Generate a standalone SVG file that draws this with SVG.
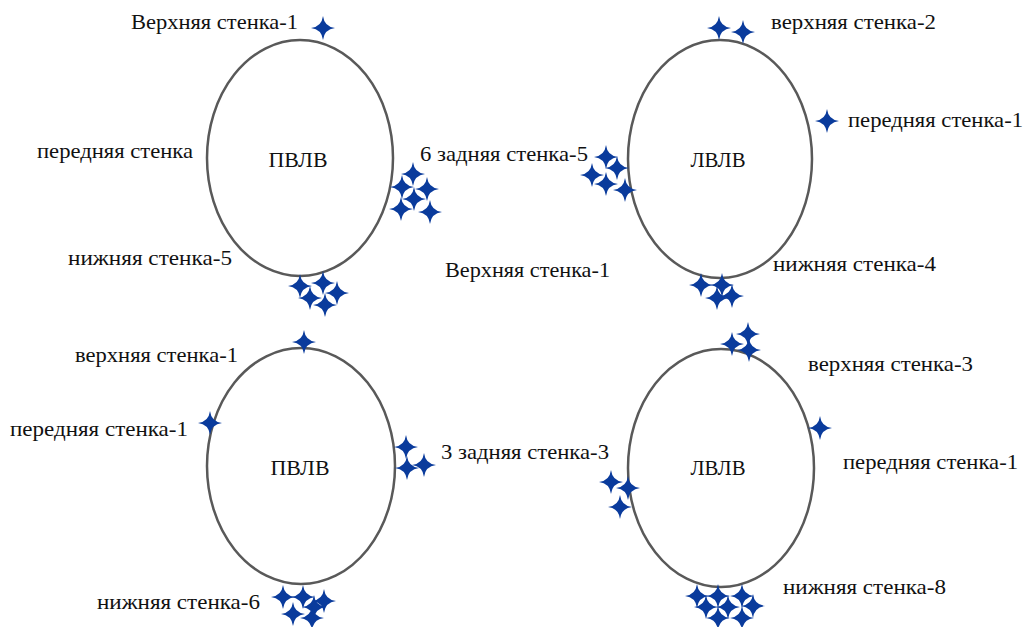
<svg xmlns="http://www.w3.org/2000/svg" xmlns:xlink="http://www.w3.org/1999/xlink" width="1026" height="627" viewBox="0 0 1026 627">
  <style>
    .vent { fill: none; stroke: #595959; stroke-width: 2.5; }
    .lbl { font-family: "Liberation Serif", "Times New Roman", serif; font-size: 21px; fill: #111; }
    .ctr { text-anchor: middle; font-size: 22px; }
    .mk { fill: #0a3b9c; }
  </style>
  <defs>
    <!-- four-point star marker -->
    <path id="star" class="mk" d="M0,-12 Q1.3,-1.3 12,0 Q1.3,1.3 0,12 Q-1.3,1.3 -12,0 Q-1.3,-1.3 0,-12 Z"/>
  </defs>

  <rect width="1026" height="627" fill="#fff"/>

  <!-- upper left: ПВЛВ -->
  <g id="node-pvlv-1">
    <ellipse class="vent" cx="300" cy="158" rx="93" ry="118"/>
    <text class="lbl ctr" x="298" y="167" textLength="59" lengthAdjust="spacingAndGlyphs">ПВЛВ</text>
    <text class="lbl" x="131" y="29" textLength="167" lengthAdjust="spacingAndGlyphs">Верхняя стенка-1</text>
    <text class="lbl" x="37" y="158" textLength="156" lengthAdjust="spacingAndGlyphs">передняя стенка</text>
    <text class="lbl" x="68" y="265" textLength="164" lengthAdjust="spacingAndGlyphs">нижняя стенка-5</text>
    <g>
      <use href="#star" x="323" y="28"/>
      <use href="#star" x="413" y="174"/>
      <use href="#star" x="402" y="187"/>
      <use href="#star" x="427" y="189"/>
      <use href="#star" x="414" y="199"/>
      <use href="#star" x="401" y="209"/>
      <use href="#star" x="430" y="212"/>
      <use href="#star" x="300" y="286"/>
      <use href="#star" x="323" y="283"/>
      <use href="#star" x="310" y="298"/>
      <use href="#star" x="337" y="293"/>
      <use href="#star" x="325" y="305"/>
    </g>
  </g>

  <!-- upper right: ЛВЛВ -->
  <g id="node-lvlv-1">
    <ellipse class="vent" cx="720" cy="159" rx="92" ry="119"/>
    <text class="lbl ctr" x="718" y="167" textLength="55" lengthAdjust="spacingAndGlyphs">ЛВЛВ</text>
    <text class="lbl" x="771" y="29" textLength="165" lengthAdjust="spacingAndGlyphs">верхняя стенка-2</text>
    <text class="lbl" x="848" y="127" textLength="175" lengthAdjust="spacingAndGlyphs">передняя стенка-1</text>
    <text class="lbl" x="420" y="161" textLength="168" lengthAdjust="spacingAndGlyphs">6 задняя стенка-5</text>
    <text class="lbl" x="773" y="271" textLength="163" lengthAdjust="spacingAndGlyphs">нижняя стенка-4</text>
    <text class="lbl" x="445" y="277" textLength="165" lengthAdjust="spacingAndGlyphs">Верхняя стенка-1</text>
    <g>
      <use href="#star" x="719" y="28"/>
      <use href="#star" x="743" y="32"/>
      <use href="#star" x="827" y="121"/>
      <use href="#star" x="606" y="157"/>
      <use href="#star" x="617" y="168"/>
      <use href="#star" x="592" y="175"/>
      <use href="#star" x="606" y="184"/>
      <use href="#star" x="625" y="190"/>
      <use href="#star" x="701" y="285"/>
      <use href="#star" x="722" y="285"/>
      <use href="#star" x="717" y="298"/>
      <use href="#star" x="732" y="296"/>
    </g>
  </g>

  <!-- lower left: ПВЛВ -->
  <g id="node-pvlv-2">
    <ellipse class="vent" cx="301" cy="466" rx="94" ry="118"/>
    <text class="lbl ctr" x="300" y="475" textLength="59" lengthAdjust="spacingAndGlyphs">ПВЛВ</text>
    <text class="lbl" x="75" y="362" textLength="163" lengthAdjust="spacingAndGlyphs">верхняя стенка-1</text>
    <text class="lbl" x="10" y="436" textLength="178" lengthAdjust="spacingAndGlyphs">передняя стенка-1</text>
    <text class="lbl" x="441" y="459" textLength="168" lengthAdjust="spacingAndGlyphs">3 задняя стенка-3</text>
    <text class="lbl" x="97" y="609" textLength="163" lengthAdjust="spacingAndGlyphs">нижняя стенка-6</text>
    <g>
      <use href="#star" x="304" y="342"/>
      <use href="#star" x="210" y="423"/>
      <use href="#star" x="406" y="447"/>
      <use href="#star" x="407" y="468"/>
      <use href="#star" x="424" y="465"/>
      <use href="#star" x="283" y="597"/>
      <use href="#star" x="303" y="597"/>
      <use href="#star" x="293" y="614"/>
      <use href="#star" x="324" y="601"/>
      <use href="#star" x="314" y="607"/>
      <use href="#star" x="312" y="618"/>
    </g>
  </g>

  <!-- lower right: ЛВЛВ -->
  <g id="node-lvlv-2">
    <ellipse class="vent" cx="721" cy="468" rx="93" ry="119"/>
    <text class="lbl ctr" x="718" y="475" textLength="55" lengthAdjust="spacingAndGlyphs">ЛВЛВ</text>
    <text class="lbl" x="808" y="371" textLength="165" lengthAdjust="spacingAndGlyphs">верхняя стенка-3</text>
    <text class="lbl" x="843" y="469" textLength="175" lengthAdjust="spacingAndGlyphs">передняя стенка-1</text>
    <text class="lbl" x="783" y="594" textLength="163" lengthAdjust="spacingAndGlyphs">нижняя стенка-8</text>
    <g>
      <use href="#star" x="732" y="344"/>
      <use href="#star" x="748" y="334"/>
      <use href="#star" x="749" y="350"/>
      <use href="#star" x="820" y="428"/>
      <use href="#star" x="611" y="482"/>
      <use href="#star" x="628" y="488"/>
      <use href="#star" x="620" y="507"/>
      <use href="#star" x="697" y="596"/>
      <use href="#star" x="718" y="596"/>
      <use href="#star" x="742" y="596"/>
      <use href="#star" x="706" y="607"/>
      <use href="#star" x="728" y="607"/>
      <use href="#star" x="753" y="606"/>
      <use href="#star" x="718" y="618"/>
      <use href="#star" x="742" y="618"/>
    </g>
  </g>

  <!-- no connectors in this figure -->
  <g id="connectors"/>
</svg>
